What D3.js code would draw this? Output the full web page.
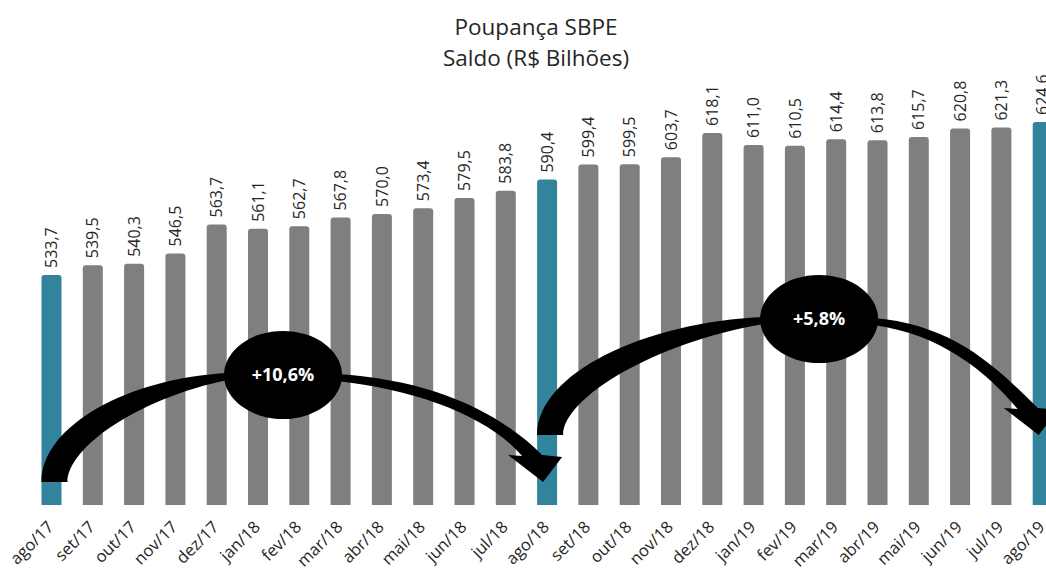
<!doctype html>
<html>
  <head>
    <meta charset="utf-8">
    <title>Poupança SBPE</title>
    <script src="https://cdn.jsdelivr.net/npm/d3@7"></script>
    <style>
      body { margin: 0; background: #fff; }
      text { font-family: "Open Sans", sans-serif; }
    </style>
  </head>
  <body>
    <script>
      // meses e saldo (R$ bilhões)
      const months = ['ago/17', 'set/17', 'out/17', 'nov/17', 'dez/17', 'jan/18', 'fev/18', 'mar/18',
        'abr/18', 'mai/18', 'jun/18', 'jul/18', 'ago/18', 'set/18', 'out/18', 'nov/18', 'dez/18',
        'jan/19', 'fev/19', 'mar/19', 'abr/19', 'mai/19', 'jun/19', 'jul/19', 'ago/19'];
      const saldo = [533.7, 539.5, 540.3, 546.5, 563.7, 561.1, 562.7, 567.8, 570.0, 573.4, 579.5, 583.8,
        590.4, 599.4, 599.5, 603.7, 618.1, 611.0, 610.5, 614.4, 613.8, 615.7, 620.8, 621.3, 624.6];
      const highlight = ['ago/17', 'ago/18', 'ago/19'];
      const titleLines = ['Poupança SBPE', 'Saldo (R$ Bilhões)'];

      // variações anuais (de, até, rótulo)
      const growthFrom = ['ago/17', 'ago/18'];
      const growthTo = ['ago/18', 'ago/19'];
      const growthLabel = ['+10,6%', '+5,8%'];

      const width = 1046;
      const height = 571;
      const baseline = 505;

      const svg = d3.select('body').append('svg')
          .attr('width', width)
          .attr('height', height);

      const x = d3.scalePoint()
          .domain(months)
          .range([51.5, 1042.7]);
      const barW = 20;

      const y = d3.scaleLinear()
          .domain([397, 624.6])
          .range([baseline, 122]);

      const fmt = v => d3.format('.1f')(v).replace('.', ',');

      // titulo
      svg.append('g').selectAll('text')
        .data(titleLines)
        .join('text')
          .attr('x', 536)
          .attr('y', (d, i) => 35 + i * 31)
          .attr('text-anchor', 'middle')
          .attr('font-size', 22.5)
          .attr('fill', '#262626')
          .text(d => d);

      // barras
      svg.append('g').selectAll('path')
        .data(months)
        .join('path')
          .attr('d', (m, i) => {
            const x0 = x(m) - barW / 2, y0 = y(saldo[i]), r = 3;
            return `M${x0},${baseline}V${y0 + r}Q${x0},${y0} ${x0 + r},${y0}H${x0 + barW - r}` +
              `Q${x0 + barW},${y0} ${x0 + barW},${y0 + r}V${baseline}Z`;
          })
          .attr('fill', m => highlight.includes(m) ? '#31849b' : '#7f7f7f');

      // rotulos de valor
      svg.append('g').selectAll('text')
        .data(months)
        .join('text')
          .attr('transform', (m, i) => `translate(${x(m)},${y(saldo[i]) - 7}) rotate(-90)`)
          .attr('dy', '0.35em')
          .attr('font-size', 16)
          .attr('fill', '#262626')
          .text((m, i) => fmt(saldo[i]));

      // eixo x
      svg.append('g').selectAll('text')
        .data(months)
        .join('text')
          .attr('transform', m => `translate(${x(m) - 1},${baseline + 19}) rotate(-45)`)
          .attr('text-anchor', 'end')
          .attr('dy', '0.35em')
          .attr('font-size', 16.5)
          .attr('fill', '#262626')
          .text(m => m);

      // setas curvas com elipse
      const arrows = [
        { baseY: 482, ecx: x(growthFrom[0]) + 231.5, ecy: 375, tipY: 482 },
        { baseY: 435, ecx: x(growthFrom[1]) + 272, ecy: 319, tipY: 435 }
      ];
      const erx = 59, ery = 44, w0 = 26;

      arrows.forEach((a, k) => {
        const sx = x(growthFrom[k]) - barW / 2;
        const ex = x(growthTo[k]);
        const elx = a.ecx - erx, erxR = a.ecx + erx;
        const dy = a.baseY - a.ecy;
        const hy = a.tipY - 26;
        const p = d3.path();
        // haste esquerda
        p.moveTo(sx, a.baseY);
        p.bezierCurveTo(sx, a.baseY - 0.53 * dy, sx + 0.48 * (elx - sx), a.ecy + 3, elx + 4, a.ecy - 2);
        p.lineTo(elx + 4, a.ecy + 5);
        p.bezierCurveTo(sx + 0.53 * (elx - sx), a.ecy + 23, sx + w0, a.baseY - 0.32 * dy, sx + w0, a.baseY);
        p.closePath();
        // haste direita e ponta
        p.moveTo(erxR - 5, a.ecy - 1);
        p.bezierCurveTo(erxR + 0.45 * (ex - erxR), a.ecy + 5, ex - 47, hy - 43, ex - 5, hy - 1);
        p.lineTo(ex + 15, hy + 1);
        p.lineTo(ex - 4, a.tipY);
        p.lineTo(ex - 39, hy - 1);
        p.lineTo(ex - 25, hy);
        p.bezierCurveTo(ex - 57, hy - 38, erxR + 0.38 * (ex - erxR), a.ecy + 15, erxR - 5, a.ecy + 6);
        p.closePath();

        const g = svg.append('g');
        g.append('path').attr('d', p.toString()).attr('fill', '#000');
        g.append('ellipse')
          .attr('cx', a.ecx).attr('cy', a.ecy)
          .attr('rx', erx).attr('ry', ery)
          .attr('fill', '#000');
        g.append('text')
          .attr('x', a.ecx).attr('y', a.ecy)
          .attr('dy', '0.35em')
          .attr('text-anchor', 'middle')
          .attr('font-size', 18)
          .attr('font-weight', 'bold')
          .attr('fill', '#fff')
          .text(growthLabel[k]);
      });
    </script>
  </body>
</html>
